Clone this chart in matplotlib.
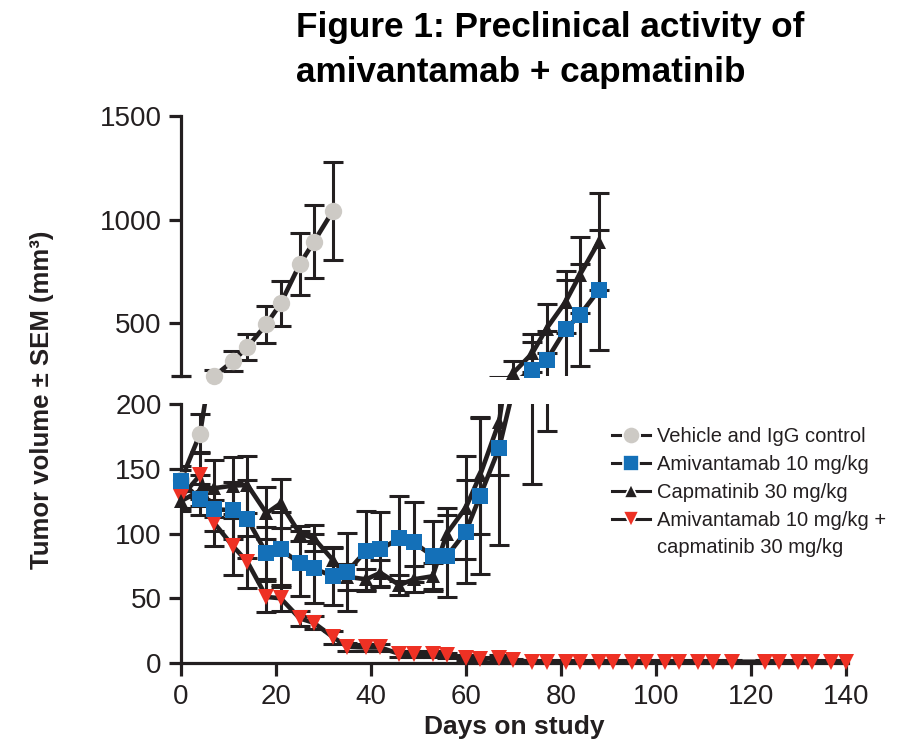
import numpy as np
import matplotlib
matplotlib.use("Agg")
import matplotlib.pyplot as plt
from matplotlib.lines import Line2D
from matplotlib import font_manager

plt.rcParams['font.family'] = ['Liberation Sans', 'DejaVu Sans']

# ---------------- data ----------------
days_all = [0, 4, 7, 11, 14, 18, 21, 25, 28, 32, 35, 39, 42, 46, 49, 53, 56, 60, 63, 67,
            70, 74, 77, 81, 84, 88, 91, 95, 98, 102, 105, 109, 112, 116, 123, 126, 130, 133, 137, 140]

vehicle_days = [0, 4, 7, 11, 14, 18, 21, 25, 28, 32]
vehicle_vals = [141, 177, 245, 318, 385, 495, 595, 784, 893, 1042]
vehicle_err = [8, 15, 30, 48, 63, 90, 108, 150, 175, 236]

amiv_days = [0, 4, 7, 11, 14, 18, 21, 25, 28, 32, 35, 39, 42, 46, 49, 53, 56, 60, 63, 67,
             74, 77, 81, 84, 88]
amiv_vals = [140.5, 126.4, 118.7, 118, 111, 84.7, 87.8, 77, 73, 67, 70.5, 86.7, 87.8, 96.3,
             93.2, 82.6, 82.6, 101.4, 129, 165.8, 273, 321, 470, 539, 659]
amiv_err = [12, 12, 17, 22, 30, 20, 29, 25, 27, 22, 30, 31, 29, 33, 31, 27, 32, 40, 60, 75,
            135, 142, 240, 247, 290]

capm_days = [0, 4, 7, 11, 14, 18, 21, 25, 28, 32, 35, 39, 42, 46, 49, 53, 56, 60, 63, 67,
             70, 74, 77, 81, 84, 88]
capm_vals = [125, 133, 135, 137, 137.5, 115.6, 123.3, 100, 96.3, 79.5, 66.6, 64.6, 69.7, 60.2,
             64.6, 67, 100, 120, 145, 186, 260, 355, 474, 603, 732, 893]
capm_err = [8, 12, 22, 22, 22, 20, 19, 6, 10, 10, 10, 8, 10, 8, 10, 10, 20, 40, 45, 41,
            55, 92, 120, 150, 185, 233]

combo_days = days_all
combo_vals = [128, 145, 108, 90, 78, 51, 50, 34.5, 31, 20, 12.6, 12, 12, 7, 7, 7, 6, 4, 3, 4,
              2, 1, 1, 1, 1, 1, 1, 1, 1, 1, 1, 1, 1, 1, 1, 1, 1, 1, 1, 1]
combo_err = [8, 18, 18, 22, 20, 12, 10, 6, 5, 5, 3, 3, 3, 2, 2, 2, 2, 2, 2, 2,
             1, 1, 1, 1, 1, 1, 1, 1, 1, 1, 1, 1, 1, 1, 1, 1, 1, 1, 1, 1]

labels = ["Vehicle and IgG control", "Amivantamab 10 mg/kg", "Capmatinib 30 mg/kg",
          "Amivantamab 10 mg/kg +", "capmatinib 30 mg/kg"]

y_upper_ticks = [500, 1000, 1500]
y_lower_ticks = [0, 50, 100, 150, 200]
x_ticks = [0, 20, 40, 60, 80, 100, 120, 140]

# ---------------- style ----------------
K = '#231f20'
GREY = '#cdcac5'
BLUE = '#1470b8'
RED = '#ee3124'

available = {f.name for f in font_manager.fontManager.ttflist}
if 'Liberation Sans Narrow' in available:
    title_family, title_size = ['Liberation Sans Narrow', 'DejaVu Sans'], 29
else:
    title_family, title_size = ['Liberation Sans', 'DejaVu Sans'], 25.3

W, H = 909, 747
fig = plt.figure(figsize=(W / 100, H / 100), dpi=100)
ax_up = fig.add_axes([181 / W, (H - 376) / H, 667 / W, 260 / H])
ax_lo = fig.add_axes([181 / W, (H - 663) / H, 667 / W, 259 / H])

ax_up.set_ylim(245, 1500)
ax_lo.set_ylim(0, 200)
for ax in (ax_up, ax_lo):
    ax.set_xlim(0, 140.5)
    ax.patch.set_alpha(0)
    for s in ('top', 'right'):
        ax.spines[s].set_visible(False)
    ax.spines['left'].set_linewidth(2.3)
    ax.spines['bottom'].set_linewidth(2.3)
    ax.spines['left'].set_color(K)
    ax.spines['bottom'].set_color(K)
    ax.tick_params(axis='both', which='major', length=9, width=2.3, color=K,
                   labelsize=20, labelcolor=K, pad=5)

ax_up.spines['bottom'].set_visible(False)
ax_up.set_xticks([])
ax_up.set_yticks(y_upper_ticks)
ax_up.set_yticks([245], minor=True)
ax_up.tick_params(axis='y', which='minor', direction='inout', length=14, width=2.3, color=K)

ax_lo.set_yticks(y_lower_ticks)
ax_lo.set_xticks(x_ticks)
ax_lo.set_yticks([200], minor=True)
ax_lo.tick_params(axis='y', which='minor', direction='in', length=5, width=2.3, color=K)
ax_lo.tick_params(axis='x', which='major', pad=6)

series = [
    (vehicle_days, vehicle_vals, vehicle_err, 'o', GREY, 12.5, 3.5),
    (amiv_days, amiv_vals, amiv_err, 's', BLUE, 11, 6),
    (capm_days, capm_vals, capm_err, '^', K, 10.5, 5),
    (combo_days, combo_vals, combo_err, 'v', RED, 11, 3.6),
]

for ax in (ax_up, ax_lo):
    lo, hi = ax.get_ylim()
    for d, v, e, m, c, ms, z in series:
        d = np.asarray(d, float)
        v = np.asarray(v, float)
        e = np.asarray(e, float)
        ax.errorbar(d, v, yerr=e, fmt='none', ecolor=K, elinewidth=2.2,
                    capsize=7, capthick=2.2, zorder=2)
        ax.plot(d, v, color=K, lw=3.3, zorder=3, solid_capstyle='butt')
        mask = (v >= lo - 1) & (v <= hi)
        ax.plot(d[mask], v[mask], ls='none', marker=m, color=c, markersize=ms,
                markeredgewidth=0, zorder=z, clip_on=False)

# legend
handles = []
for d, v, e, m, c, ms, z in series:
    handles.append(Line2D([], [], color=K, lw=2.2, marker=m, markerfacecolor=c,
                          markeredgecolor='white', markeredgewidth=1.2, markersize=ms))
handles.append(Line2D([], [], ls='none'))
leg = ax_lo.legend(handles, labels, loc='upper left', bbox_to_anchor=(612 / W, 1 - 427 / H),
                   bbox_transform=fig.transFigure, frameon=False, fontsize=14.5,
                   handlelength=1.9, handletextpad=0.35, labelspacing=0.44,
                   borderaxespad=0, borderpad=0)
for t in leg.get_texts():
    t.set_color(K)

ax_lo.set_xlabel("Days on study", fontsize=19, fontweight='bold', color=K, labelpad=4)
fig.text(42 / W, 1 - 400 / H, "Tumor volume \u00b1 SEM (mm\u00b3)", rotation=90,
         fontsize=18.5, fontweight='bold', color=K, ha='center', va='center')

fig.text(296 / W, 1 - 11 / H, "Figure 1: Preclinical activity of\namivantamab + capmatinib",
         fontsize=title_size, family=title_family, fontweight='bold', color='black',
         ha='left', va='top', linespacing=1.45)

fig.savefig("out.png", dpi=100)
